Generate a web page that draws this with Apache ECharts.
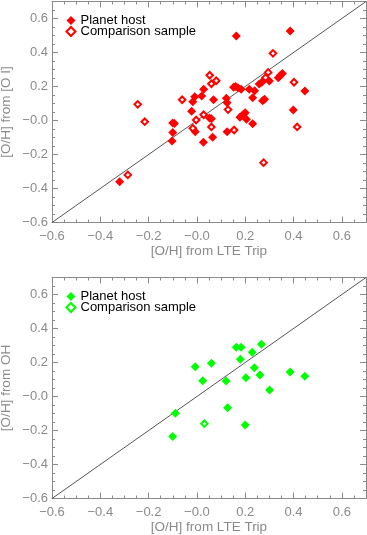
<!DOCTYPE html>
<html>
<head>
<meta charset="utf-8">
<script src="https://cdn.jsdelivr.net/npm/echarts@6/dist/echarts.min.js"></script>
<style>
html,body{margin:0;padding:0;background:#fff;}
#chart{width:367px;height:535px;}
</style>
</head>
<body>
<div id="chart"></div>
<script>
// ---- data: [O/H] from LTE Trip (x) vs [O/H] from [O I] (y) ----
const oiHost = [
  [0.163,0.497],[0.386,0.526],[0.337,0.252],[0.345,0.264],[0.354,0.276],
  [0.300,0.232],[0.258,0.215],[0.269,0.225],[0.447,0.174],[0.399,0.062],
  [0.217,0.184],[0.239,0.175],[0.231,0.134],[0.272,0.116],[0.280,0.125],
  [0.183,0.184],[0.152,0.195],[0.160,0.200],[0.170,0.193],[0.122,0.131],
  [0.125,0.105],[0.069,0.122],[0.028,0.184],[0.020,0.144],[-0.009,0.140],
  [-0.017,0.111],[-0.022,0.054],[0.178,0.019],[0.189,0.032],[0.200,0.046],
  [0.205,0.007],[0.231,-0.019],[0.125,-0.066],[0.065,-0.099],[0.027,-0.128],
  [-0.007,-0.066],[-0.100,-0.070],[-0.103,-0.121],[-0.320,-0.360],
  [-0.100,-0.014],[-0.093,-0.018],[0.052,0.015],[0.060,0.010]
];
const oiComparison = [
  [0.315,0.395],[0.295,0.283],[0.284,0.252],[0.402,0.225],[0.415,-0.038],
  [0.053,0.266],[0.060,0.216],[0.080,0.234],[-0.061,0.122],[-0.245,0.095],
  [-0.216,-0.007],[-0.003,0.003],[0.028,0.034],[0.060,-0.038],[0.129,0.064],
  [0.154,-0.056],[-0.017,-0.046],[-0.286,-0.320],[0.276,-0.248]
];
// ---- data: [O/H] from LTE Trip (x) vs [O/H] from OH (y) ----
const ohHost = [
  [-0.007,0.175],[0.060,0.195],[0.024,0.093],[0.121,0.091],[0.163,0.289],
  [0.183,0.289],[0.180,0.219],[0.229,0.260],[0.267,0.307],[0.238,0.169],
  [0.203,0.111],[0.261,0.126],[0.301,0.038],[0.386,0.144],[0.447,0.119],
  [0.127,-0.066],[-0.089,-0.099],[-0.100,-0.236],[0.200,-0.168]
];
const ohComparison = [
  [0.031,-0.160]
];
const oneToOne = [[-0.6,-0.6],[0.7,0.7]];
const axisMin = -0.6, axisMax = 0.7, axisStep = 0.2;
const xTitle = '[O/H] from LTE Trip';
const yTitles = ['[O/H] from [O I]', '[O/H] from OH'];
const legendNames = ['Planet host', 'Comparison sample'];

const GRAY = '#8a8a8a';
const FONT = 'Liberation Sans, Arial, sans-serif';

function fmt(v){
  if (Math.abs(v) < 1e-9) return '\u22120.0';
  return (v < 0 ? '\u2212' : '') + Math.abs(v).toFixed(1);
}
function baseAxis(gi, pos, showLabel, name){
  return {
    type:'value', gridIndex:gi, position:pos, min:axisMin, max:axisMax, interval:axisStep,
    axisLine:{show:true, onZero:false, lineStyle:{color:GRAY, width:1}},
    axisTick:{show:true, inside:true, length:6, lineStyle:{color:GRAY, width:1}},
    minorTick:{show:true, splitNumber:4, length:3, lineStyle:{color:GRAY, width:1}},
    splitLine:{show:false},
    axisLabel:{show:showLabel, formatter:fmt, color:GRAY, fontFamily:FONT, fontSize:13,
      showMaxLabel:false, margin:(pos==='bottom'?7:4)},
    name: name || '', nameLocation:'middle', nameMoveOverlap:false,
    nameGap: (pos==='bottom'?22:39),
    nameTextStyle:{color:GRAY, fontFamily:FONT, fontSize:13.5}
  };
}

const grids = [
  {left:52, top:1.5, width:314, height:221, containLabel:false, outerBoundsMode:'none'},
  {left:52, top:277.5, width:314, height:221, containLabel:false, outerBoundsMode:'none'}
];
const xAxes = [], yAxes = [];
grids.forEach((g,i)=>{
  xAxes.push(baseAxis(i,'bottom',true,xTitle));
  xAxes.push(baseAxis(i,'top',false,''));
  yAxes.push(baseAxis(i,'left',true,yTitles[i]));
  yAxes.push(baseAxis(i,'right',false,''));
});

const colors = ['#ff0000','#00ff00'];
const sets = [[oiHost, oiComparison],[ohHost, ohComparison]];
const tags = ['OI','OH'];
const series = [];
sets.forEach((s,i)=>{
  series.push({
    type:'line', xAxisIndex:2*i, yAxisIndex:2*i, data:oneToOne, symbol:'none',
    lineStyle:{color:'#555', width:1}, silent:true, z:1
  });
  series.push({
    name:legendNames[0]+'|'+tags[i], type:'scatter', xAxisIndex:2*i, yAxisIndex:2*i,
    data:s[0], symbol:'diamond', symbolSize:9,
    itemStyle:{color:colors[i], opacity:1}, z:3
  });
  series.push({
    name:legendNames[1]+'|'+tags[i], type:'scatter', xAxisIndex:2*i, yAxisIndex:2*i,
    data:s[1], symbol:'emptyDiamond', symbolSize:6.5,
    itemStyle:{color:colors[i], borderColor:colors[i], borderWidth:1.5, opacity:1}, z:4
  });
});

const legends = [14, 290].map((top,i)=>({
  left:65.5, top:top, padding:0, orient:'vertical', itemWidth:9, itemHeight:9, itemGap:-2, itemTextGap:3,
  selectedMode:false,
  formatter: n => n.split('|')[0],
  textStyle:{color:'#000', fontFamily:FONT, fontSize:13, lineHeight:12},
  data:[
    {name:legendNames[0]+'|'+tags[i], icon:'diamond', itemStyle:{color:colors[i]}},
    {name:legendNames[1]+'|'+tags[i], icon:'emptyDiamond', itemStyle:{color:colors[i], borderColor:colors[i], borderWidth:1.2}}
  ]
}));

const chart = echarts.init(document.getElementById('chart'), null, {renderer:'canvas'});
chart.setOption({
  animation:false,
  backgroundColor:'#fff',
  grid:grids,
  xAxis:xAxes,
  yAxis:yAxes,
  legend:legends,
  series:series
});
</script>
</body>
</html>
